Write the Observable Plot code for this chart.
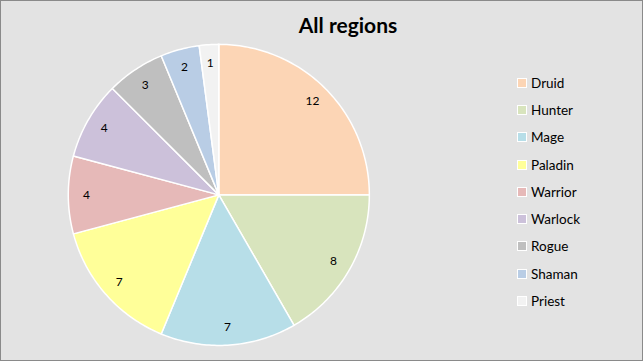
<!DOCTYPE html>
<html>
<head>
<meta charset="utf-8">
<script src="https://cdn.jsdelivr.net/npm/d3@7"></script>
<script src="https://cdn.jsdelivr.net/npm/@observablehq/plot@0.6"></script>
<style>
  html, body { margin: 0; padding: 0; }
  #chart { position: relative; width: 643px; height: 361px; box-sizing: border-box;
    border: 1px solid #8a8a8a; background: #e3e3e3; overflow: hidden; font-family: Lato, "Open Sans", sans-serif; }
  #chart svg { position: absolute; left: -1px; top: -1px; }
  #title { position: absolute; left: 0; width: 694px; top: 11px; text-align: center;
    font-weight: bold; font-size: 21px; color: #000; }
  #legend { position: absolute; left: 516px; top: 68px; }
  .row { height: 27.3px; display: flex; align-items: center; font-size: 13.5px; color: #000; }
  .sw { width: 8px; height: 8px; border: 1px solid #fff; margin-right: 4px; }
</style>
</head>
<body>
<div id="chart"><div id="title">All regions</div><div id="legend"></div></div>
<script>
const classes = ["Druid", "Hunter", "Mage", "Paladin", "Warrior", "Warlock", "Rogue", "Shaman", "Priest"];
const counts = [12, 8, 7, 7, 4, 4, 3, 2, 1];
const colors = ["#fcd5b5", "#d8e4bd", "#b7dee8", "#ffff99", "#e6b9b8", "#ccc1da", "#bfbfbf", "#b9cde5", "#f2f2f2"];

const W = 643, H = 361, cx = 219, cy = 195, R = 151;

const arcs = d3.pie().sort(null).value(d => d.v)(classes.map((c, i) => ({c, v: counts[i]})));
const poly = [];
for (const a of arcs) {
  poly.push({c: a.data.c, x: 0, y: 0});
  const n = Math.max(2, Math.ceil((a.endAngle - a.startAngle) / (Math.PI / 180)));
  for (let k = 0; k <= n; k++) {
    const t = a.startAngle + (a.endAngle - a.startAngle) * k / n;
    poly.push({c: a.data.c, x: Math.sin(t), y: Math.cos(t)});
  }
  poly.push({c: a.data.c, x: 0, y: 0});
}
const labels = arcs.map(a => {
  const m = (a.startAngle + a.endAngle) / 2;
  return {c: a.data.c, v: a.data.v, x: 0.88 * Math.sin(m), y: 0.88 * Math.cos(m)};
});

const plot = Plot.plot({
  width: W, height: H,
  margin: 0,
  x: {domain: [-cx / R, (W - cx) / R], axis: null},
  y: {domain: [-(H - cy) / R, cy / R], axis: null},
  color: {domain: classes, range: colors},
  style: {background: "transparent", fontFamily: "Lato, 'Open Sans', sans-serif"},
  marks: [
    Plot.line(poly, {x: "x", y: "y", z: "c", fill: "c", stroke: "#fff", strokeWidth: 1.5, strokeLinejoin: "round", curve: "linear"}),
    Plot.text(labels, {x: "x", y: "y", text: d => String(d.v), fontSize: 12, fill: "#000"})
  ]
});
document.getElementById("chart").appendChild(plot);

const legend = document.getElementById("legend");
classes.forEach((c, i) => {
  const row = document.createElement("div");
  row.className = "row";
  row.innerHTML = `<span class="sw" style="background:${colors[i]}"></span><span>${c}</span>`;
  legend.appendChild(row);
});
</script>
</body>
</html>
